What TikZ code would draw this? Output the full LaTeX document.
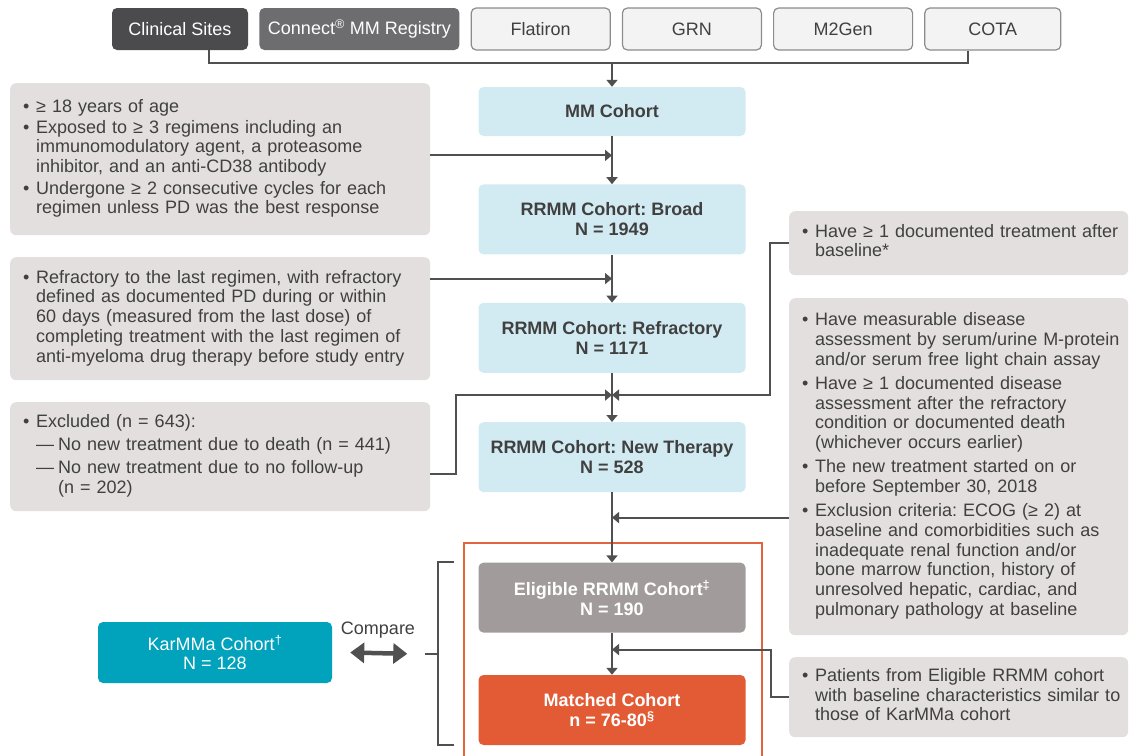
\documentclass[tikz,border=0pt]{standalone}
\usepackage{fontspec}
\setmainfont{Liberation Sans}
\usetikzlibrary{positioning,arrows.meta,calc}

\definecolor{linegray}{HTML}{505050}
\definecolor{txtgray}{HTML}{404040}
\definecolor{srcdark}{HTML}{4B4B4D}
\definecolor{srcmid}{HTML}{6D6D6F}
\definecolor{srclight}{HTML}{F3F3F3}
\definecolor{srcline}{HTML}{8C8C8C}
\definecolor{cohortblue}{HTML}{D2EAF2}
\definecolor{critgray}{HTML}{E3DFDE}
\definecolor{eliggray}{HTML}{A19C9B}
\definecolor{matchorange}{HTML}{E25B35}
\definecolor{karmmateal}{HTML}{00A2BC}
\definecolor{frameorange}{HTML}{E2643E}

\newcommand{\diagfont}{\fontsize{18}{19.7}\selectfont\frenchspacing}
\newcommand{\critem}[1]{\noindent\makebox[13pt][l]{\textbullet}\begin{tabular}[t]{@{}l@{}}#1\end{tabular}\par}
\newcommand{\exitem}[1]{\noindent\hspace*{13pt}\makebox[22pt][l]{—}\begin{tabular}[t]{@{}l@{}}#1\end{tabular}\par}

\begin{document}
\begin{tikzpicture}[x=1pt,y=-1pt,>={Triangle[length=7pt,width=11pt]},
    line/.style={draw=linegray,line width=2pt},
    flow/.style={line,->},
    src/.style={rectangle,rounded corners=5pt,minimum width=139pt,minimum height=42pt,inner sep=0pt,font=\diagfont},
    srcbox/.style={src,fill=srclight,draw=srcline,line width=1.2pt,text=txtgray},
    cohort/.style={rectangle,rounded corners=5pt,minimum width=267pt,minimum height=70pt,align=center,font=\diagfont\bfseries,fill=cohortblue,text=txtgray},
    crit/.style={rectangle,rounded corners=6pt,anchor=north west,fill=critgray,text=txtgray,align=left,inner xsep=13pt,inner ysep=0pt,font={\diagfont\setlength{\parskip}{3.5pt}}}]

\useasboundingbox (0,0) rectangle (1129,755);
\draw[draw=frameorange,line width=2.5pt] (464,543) rectangle (762,775);

% data sources
\node[src,fill=srcdark,text=white,minimum width=136pt] (clin) at (180,29) {Clinical Sites};
\node[src,fill=srcmid,text=white,minimum width=200pt,right=11pt of clin] (conn) {Connect\textsuperscript{®} MM Registry};
\node[srcbox,right=11pt of conn] (flat) {Flatiron};
\node[srcbox,right=11pt of flat] (grn) {GRN};
\node[srcbox,right=11pt of grn] (m2g) {M2Gen};
\node[srcbox,minimum width=136pt,right=11pt of m2g] (cota) {COTA};

% cohorts
\node[cohort,minimum height=49pt] (mm) at (612,111.5) {MM Cohort};
\node[cohort,below=48pt of mm] (broad) {RRMM Cohort: Broad\\N = 1949};
\node[cohort,below=48pt of broad] (refr) {RRMM Cohort: Refractory\\N = 1171};
\node[cohort,below=49pt of refr] (newt) {RRMM Cohort: New Therapy\\N = 528};
\node[cohort,below=70pt of newt,fill=eliggray,text=white] (elig) {Eligible RRMM Cohort\textsuperscript{‡}\\N = 190};
\node[cohort,below=42pt of elig,fill=matchorange,text=white] (match) {Matched Cohort\\n = 76-80\textsuperscript{§}};

% criteria
\node[crit,text width=394pt,minimum height=152pt,font={\diagfont\setlength{\parskip}{1pt}}] (age) at (10,83) {%
  \critem{≥ 18 years of age}
  \critem{Exposed to ≥ 3 regimens including an\\immunomodulatory agent, a proteasome\\inhibitor, and an anti-CD38 antibody}
  \critem{Undergone ≥ 2 consecutive cycles for each\\regimen unless PD was the best response}};
\node[crit,text width=394pt,minimum height=123pt] (lastreg) at (10,257) {%
  \critem{Refractory to the last regimen, with refractory\\defined as documented PD during or within\\60 days (measured from the last dose) of\\completing treatment with the last regimen of\\anti-myeloma drug therapy before study entry}};
\node[crit,text width=394pt,minimum height=109pt] (excl) at (10,402) {%
  \critem{Excluded (n = 643):}
  \exitem{No new treatment due to death (n = 441)}
  \exitem{No new treatment due to no follow-up\\(n = 202)}};
\node[crit,text width=313pt,minimum height=64pt] (newtx) at (789,211) {%
  \critem{Have ≥ 1 documented treatment after\\baseline*}};
\node[crit,text width=313pt,minimum height=337pt] (meas) at (789,298) {%
  \critem{Have measurable disease\\assessment by serum/urine M-protein\\and/or serum free light chain assay}
  \critem{Have ≥ 1 documented disease\\assessment after the refractory\\condition or documented death\\(whichever occurs earlier)}
  \critem{The new treatment started on or\\before September 30, 2018}
  \critem{Exclusion criteria: ECOG (≥ 2) at\\baseline and comorbidities such as\\inadequate renal function and/or\\bone marrow function, history of\\unresolved hepatic, cardiac, and\\pulmonary pathology at baseline}};
\node[crit,text width=313pt,minimum height=80pt] (simil) at (789,657) {%
  \critem{Patients from Eligible RRMM cohort\\with baseline characteristics similar to\\those of KarMMa cohort}};

% comparison
\node[cohort,fill=karmmateal,text=white,font=\diagfont,minimum width=234pt,minimum height=61pt] (karm) at (215,652.5) {KarMMa Cohort\textsuperscript{†}\\N = 128};
\node[font=\diagfont,text=txtgray] (cmplbl) at (378,630) {Compare};

% connectors
\coordinate (j0) at (612,63);
\draw[line] ([xshift=29pt]clin.south) |- (j0) -| ([xshift=-25pt]cota.south);
\draw[flow] (j0) -- (mm);
\draw[flow] (mm) -- (broad);
\draw[flow] (broad) -- (refr);
\draw[flow] (refr) -- (newt);
\draw[flow] (newt) -- (elig);
\draw[flow] (elig) -- (match);

\coordinate (j1) at ($(mm.south)!0.4!(broad.north)$);
\draw[flow] (age.east |- j1) -- (j1);
\coordinate (j2) at ($(broad.south)!0.5!(refr.north)$);
\draw[flow] (lastreg.east |- j2) -- (j2);
\coordinate (j3) at ($(refr.south)!0.45!(newt.north)$);
\draw[flow] ([yshift=-17pt]excl.east) -- ++(26,0) |- (j3);
\draw[flow] (newtx.west) -- ++(-19,0) |- (j3);
\coordinate (j4) at ($(newt.south)!0.36!(elig.north)$);
\draw[flow] (meas.west |- j4) -- (j4);
\coordinate (j5) at ($(elig.south)!0.4!(match.north)$);
\draw[flow] (simil.west) -- ++(-18,0) |- (j5);

% bracket
\coordinate (brk) at ($(elig.south west)!0.5!(match.north west)$);
\draw[line] ([xshift=-24pt]elig.north west) -- ++(-16,0) |- ([xshift=-24pt]match.south west);
\draw[line] ([xshift=-40pt]brk) -- ++(-13,0);
\draw[draw=linegray,line width=4.5pt,{Triangle[length=14pt,width=20pt]}-{Triangle[length=14pt,width=20pt]}] ([xshift=18pt]karm.east) -- ([xshift=-71pt]brk);
\end{tikzpicture}
\end{document}
